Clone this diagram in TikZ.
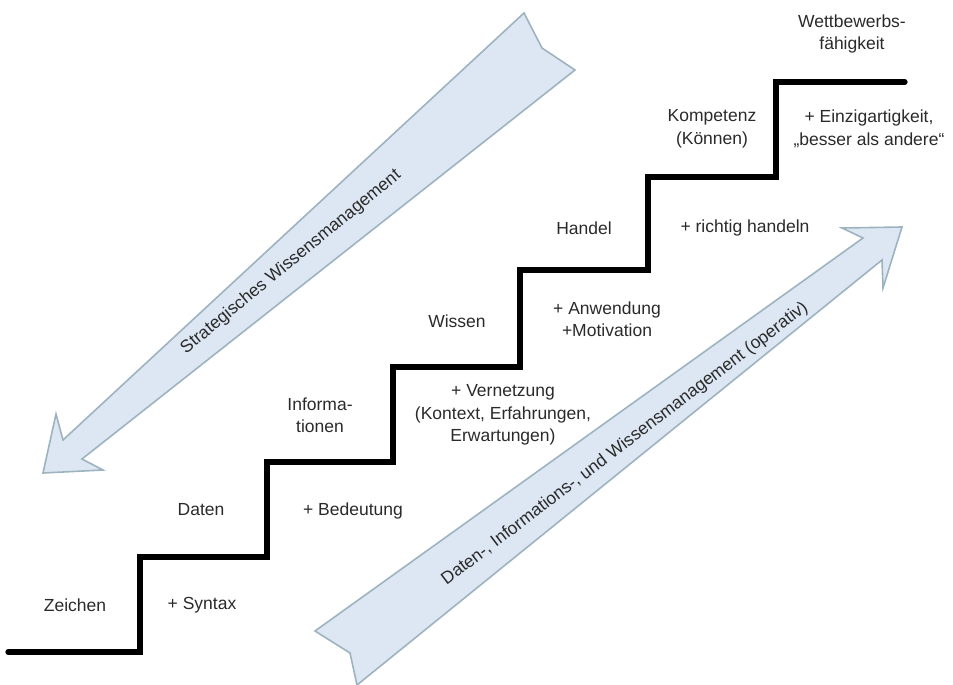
\documentclass[tikz,border=0pt]{standalone}
\usepackage{fontspec}
\setmainfont{Liberation Sans}
\definecolor{arrowfill}{HTML}{DDE7F3}
\definecolor{arrowdraw}{HTML}{9DB3BF}
\definecolor{txt}{HTML}{2A2A2A}
\begin{document}
\begin{tikzpicture}[x=0.5pt,y=-0.5pt,
  lbl/.style={align=center,text=txt,font=\fontsize{8.75}{11.25}\selectfont,inner sep=0pt},
  bigarrow/.style={fill=arrowfill,draw=arrowdraw,line width=0.8pt,line join=miter},
  stairs/.style={line width=2.6pt,line join=miter,line cap=round}]
\useasboundingbox (0,0) rectangle (953,685);

% strategic arrow (down-left)
\draw[bigarrow] (524,13) -- (63,440) -- (56,414) -- (43,473) -- (103,470) -- (82,459) -- (575,70) -- (542,48) -- cycle;
% operative arrow (up-right)
\draw[bigarrow] (315,631) -- (863,238) -- (842,228) -- (902,227) -- (883,288) -- (882,260) -- (357,685) -- (350,653) -- cycle;

\node[lbl,rotate=39.5] (strat) at (291,262) {Strategisches Wissensmanagement};
\node[lbl,rotate=37.3] (oper) at (625,444) {Daten-, Informations-, und Wissensmanagement (operativ)};

% staircase
\draw[stairs] (8,652) -- (140,652) -- (140,557) -- (267,557) -- (267,462) -- (393,462) -- (393,367) -- (520,367) -- (520,270) -- (648,270) -- (648,177) -- (776,177) -- (776,82) -- (905,82);

% labels
\node[lbl] (zeichen) at (75,605) {Zeichen};
\node[lbl] (syntax) at (202,605) {+ Syntax};
\node[lbl] (daten) at (201,510) {Daten};
\node[lbl] (bedeutung) at (353,511) {+ Bedeutung};
\node[lbl] (info) at (320,415) {Informa-\\tionen};
\node[lbl] (vernetzung) at (503,415) {+ Vernetzung\\(Kontext, Erfahrungen,\\Erwartungen)};
\node[lbl] (wissen) at (457,321) {Wissen};
\node[lbl] (anwendung) at (607,319) {+ Anwendung\\+Motivation};
\node[lbl] (handel) at (584,228) {Handel};
\node[lbl] (richtig) at (745,228) {+ richtig handeln};
\node[lbl] (kompetenz) at (712,129) {Kompetenz\\(Können)};
\node[lbl] (einzig) at (869,129) {+ Einzigartigkeit,\\„besser als andere“};
\node[lbl] (wettb) at (852,34) {Wettbewerbs-\\fähigkeit};
\end{tikzpicture}
\end{document}
